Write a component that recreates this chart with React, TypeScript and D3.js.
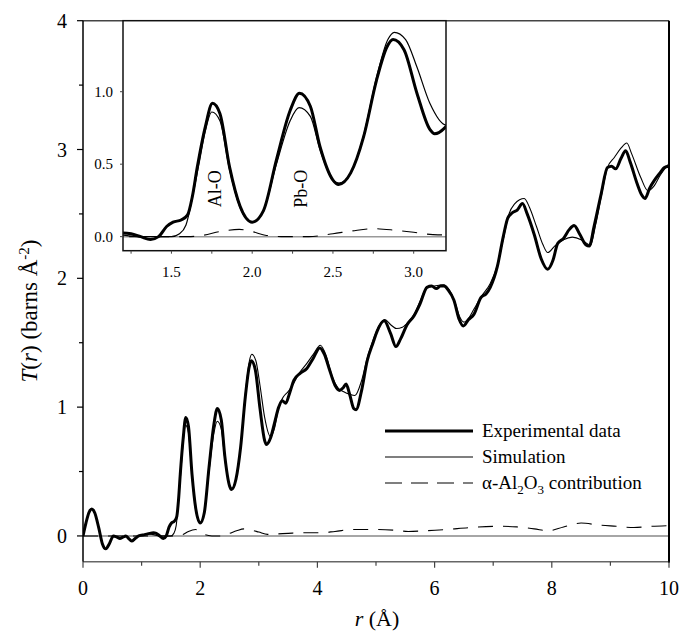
import React from "react";
import * as d3 from "d3";

// experimental T(r), [r, T]
const experimental: [number, number][] = [
  [0.0, 0.0], [0.05, 0.1], [0.1, 0.18], [0.15, 0.21], [0.2, 0.18], [0.27, 0.06],
  [0.33, -0.06], [0.39, -0.1], [0.45, -0.06], [0.52, 0.0], [0.58, -0.01], [0.63, -0.02],
  [0.68, -0.01], [0.73, 0.0], [0.78, -0.02], [0.83, -0.04], [0.89, -0.02], [0.95, 0.0],
  [1.05, 0.01], [1.14, 0.02], [1.2, 0.025], [1.25, 0.02], [1.31, 0.0], [1.37, -0.02],
  [1.42, 0.0], [1.47, 0.07], [1.51, 0.1], [1.56, 0.115], [1.6, 0.15], [1.63, 0.28],
  [1.66, 0.48], [1.71, 0.76], [1.754, 0.92], [1.8, 0.85], [1.86, 0.48], [1.925, 0.21],
  [2.0, 0.1], [2.07, 0.18], [2.15, 0.53], [2.235, 0.87], [2.293, 0.99], [2.36, 0.9],
  [2.42, 0.62], [2.5, 0.39], [2.535, 0.36], [2.61, 0.44], [2.69, 0.69], [2.77, 1.08],
  [2.835, 1.31], [2.872, 1.36], [2.94, 1.29], [3.02, 0.99], [3.1, 0.74], [3.13, 0.71],
  [3.2, 0.76], [3.27, 0.88], [3.34, 1.0], [3.4, 1.05], [3.46, 1.03], [3.52, 1.1],
  [3.6, 1.21], [3.7, 1.26], [3.82, 1.3], [3.93, 1.38], [4.04, 1.46], [4.12, 1.41],
  [4.2, 1.3], [4.3, 1.17], [4.38, 1.13], [4.44, 1.15], [4.49, 1.18], [4.55, 1.1],
  [4.62, 0.99], [4.66, 0.98], [4.75, 1.12], [4.85, 1.36], [4.95, 1.5], [5.02, 1.59],
  [5.14, 1.67], [5.25, 1.57], [5.34, 1.47], [5.42, 1.53], [5.53, 1.64], [5.65, 1.71],
  [5.75, 1.8], [5.87, 1.93], [5.95, 1.94], [6.03, 1.92], [6.1, 1.94], [6.16, 1.94],
  [6.23, 1.91], [6.33, 1.83], [6.42, 1.68], [6.49, 1.63], [6.58, 1.68], [6.67, 1.72],
  [6.79, 1.85], [6.88, 1.88], [6.95, 1.93], [7.07, 2.09], [7.17, 2.32], [7.25, 2.47],
  [7.33, 2.51], [7.41, 2.53], [7.5, 2.58], [7.58, 2.5], [7.7, 2.34], [7.82, 2.15],
  [7.93, 2.07], [8.02, 2.14], [8.1, 2.27], [8.2, 2.31], [8.3, 2.38], [8.38, 2.41],
  [8.48, 2.34], [8.58, 2.26], [8.64, 2.25], [8.72, 2.4], [8.84, 2.65], [8.95, 2.86],
  [9.02, 2.87], [9.09, 2.85], [9.18, 2.93], [9.26, 2.99], [9.34, 2.9], [9.46, 2.73],
  [9.53, 2.65], [9.59, 2.62], [9.67, 2.7], [9.75, 2.76], [9.85, 2.82], [9.92, 2.86],
  [10.0, 2.87],
];

// simulation T(r)
const simulation: [number, number][] = [
  [0.0, 0.0], [0.05, 0.1], [0.1, 0.18], [0.15, 0.21], [0.2, 0.18], [0.27, 0.06],
  [0.33, -0.06], [0.39, -0.1], [0.45, -0.06], [0.52, 0.0], [0.58, -0.01], [0.63, -0.02],
  [0.68, -0.01], [0.73, 0.0], [0.78, -0.02], [0.83, -0.04], [0.89, -0.02], [0.95, 0.0],
  [1.05, 0.01], [1.14, 0.015], [1.2, 0.01], [1.3, 0.0], [1.4, 0.0], [1.5, 0.0],
  [1.55, 0.02], [1.59, 0.08], [1.63, 0.27], [1.67, 0.5], [1.71, 0.73], [1.75, 0.86],
  [1.8, 0.8], [1.86, 0.46], [1.925, 0.2], [2.0, 0.1], [2.07, 0.18], [2.15, 0.5],
  [2.235, 0.8], [2.29, 0.89], [2.36, 0.83], [2.42, 0.6], [2.5, 0.39], [2.54, 0.37],
  [2.61, 0.44], [2.69, 0.7], [2.77, 1.1], [2.84, 1.36], [2.88, 1.41], [2.95, 1.36],
  [3.02, 1.17], [3.1, 0.92], [3.2, 0.77], [3.27, 0.84], [3.34, 1.0], [3.42, 1.08],
  [3.5, 1.12], [3.6, 1.19], [3.7, 1.27], [3.82, 1.34], [3.93, 1.41], [4.05, 1.48],
  [4.15, 1.4], [4.25, 1.24], [4.35, 1.15], [4.45, 1.12], [4.55, 1.1], [4.64, 1.09],
  [4.75, 1.2], [4.85, 1.38], [4.95, 1.52], [5.05, 1.63], [5.15, 1.68], [5.25, 1.64],
  [5.35, 1.61], [5.45, 1.62], [5.55, 1.66], [5.65, 1.72], [5.75, 1.82], [5.87, 1.93],
  [6.0, 1.94], [6.15, 1.95], [6.25, 1.91], [6.35, 1.81], [6.43, 1.7], [6.5, 1.66],
  [6.58, 1.69], [6.67, 1.76], [6.8, 1.86], [6.95, 1.96], [7.07, 2.1], [7.17, 2.3],
  [7.27, 2.5], [7.37, 2.58], [7.45, 2.61], [7.53, 2.62], [7.62, 2.55], [7.74, 2.4],
  [7.85, 2.26], [7.93, 2.2], [8.05, 2.25], [8.2, 2.3], [8.35, 2.32], [8.5, 2.3],
  [8.6, 2.27], [8.66, 2.26], [8.75, 2.42], [8.85, 2.65], [8.95, 2.86], [9.07, 2.94],
  [9.18, 3.01], [9.28, 3.05], [9.36, 2.97], [9.52, 2.78], [9.64, 2.68], [9.75, 2.72],
  [9.85, 2.8], [10.0, 2.89],
];

// alpha-Al2O3 contribution
const alumina: [number, number][] = [
  [0.0, 0.0], [1.6, 0.0], [1.7, 0.01], [1.8, 0.035], [1.92, 0.05], [2.0, 0.035],
  [2.08, 0.01], [2.2, 0.0], [2.35, 0.0], [2.5, 0.02], [2.62, 0.04], [2.75, 0.055],
  [2.88, 0.045], [3.0, 0.03], [3.15, 0.012], [3.3, 0.015], [3.5, 0.02], [3.75, 0.025],
  [4.05, 0.025], [4.3, 0.035], [4.6, 0.05], [5.0, 0.05], [5.3, 0.045], [5.55, 0.035],
  [5.85, 0.04], [6.2, 0.05], [6.6, 0.065], [7.1, 0.075], [7.4, 0.07], [7.7, 0.055],
  [7.95, 0.04], [8.2, 0.07], [8.5, 0.1], [8.8, 0.085], [9.1, 0.075], [9.4, 0.065],
  [9.7, 0.075], [10.0, 0.08],
];

const xTicksMajor = [0, 2, 4, 6, 8, 10];
const xTicksMinor = [1, 3, 5, 7, 9];
const yTicksMajor = [0, 1, 2, 3, 4];
const yTicksMinor = [0.5, 1.5, 2.5, 3.5];
const insetXTicks = [1.25, 1.5, 1.75, 2.0, 2.25, 2.5, 2.75, 3.0];
const insetXLabels = [1.5, 2.0, 2.5, 3.0];
const insetYTicks = [0, 0.5, 1.0];

const FONT = "'Liberation Serif', 'Times New Roman', serif";

export default function App() {
  const W = 681, H = 636;
  const m = { left: 83, right: 669, top: 20.7, bottom: 561.7 };
  const x = d3.scaleLinear().domain([0, 10]).range([m.left, m.right]);
  const y = d3.scaleLinear().domain([-0.2, 4]).range([m.bottom, m.top]);

  const ins = { left: 123, right: 446, top: 20.7, bottom: 250.7 };
  const xi = d3.scaleLinear().domain([1.2, 3.2]).range([ins.left, ins.right]);
  const yi = d3.scaleLinear().domain([-0.097, 1.49]).range([ins.bottom, ins.top]);

  const line = d3.line<[number, number]>()
    .x((d) => x(d[0]))
    .y((d) => y(d[1]))
    .curve(d3.curveMonotoneX);
  const lineIn = d3.line<[number, number]>()
    .x((d) => xi(d[0]))
    .y((d) => yi(d[1]))
    .curve(d3.curveMonotoneX);

  return (
    <svg width={W} height={H} style={{ position: "absolute", left: 0, top: 0, background: "#fff" }} fontFamily={FONT}>
      <defs>
        <clipPath id="main-clip">
          <rect x={m.left} y={m.top} width={m.right - m.left} height={m.bottom - m.top} />
        </clipPath>
        <clipPath id="inset-clip">
          <rect x={ins.left} y={ins.top} width={ins.right - ins.left} height={ins.bottom - ins.top} />
        </clipPath>
      </defs>

      {/* main plot */}
      <line x1={m.left} x2={m.right} y1={y(0)} y2={y(0)} stroke="#888" strokeWidth={1.5} />
      <g clipPath="url(#main-clip)" fill="none">
        <path d={line(alumina) ?? ""} stroke="#000" strokeWidth={1.1} strokeDasharray="15,10" />
        <path d={line(simulation) ?? ""} stroke="#000" strokeWidth={1.1} />
        <path d={line(experimental) ?? ""} stroke="#000" strokeWidth={3} />
      </g>

      {/* frame */}
      <line x1={m.left} x2={m.right} y1={m.top} y2={m.top} stroke="#444" strokeWidth={1.5} />
      <line x1={m.left} x2={m.right} y1={m.bottom} y2={m.bottom} stroke="#666" strokeWidth={1.5} />
      <line x1={m.left} x2={m.left} y1={m.top} y2={m.bottom} stroke="#000" strokeWidth={1.5} />
      <line x1={m.right} x2={m.right} y1={m.top} y2={m.bottom + 1} stroke="#000" strokeWidth={2} />

      {xTicksMajor.map((t) => (
        <g key={"xt" + t}>
          <line x1={x(t)} x2={x(t)} y1={m.bottom} y2={m.bottom + 6} stroke="#444" strokeWidth={1.2} />
          <text x={x(t)} y={m.bottom + 33} fontSize={20} textAnchor="middle">{t}</text>
        </g>
      ))}
      {xTicksMinor.map((t) => (
        <line key={"xm" + t} x1={x(t)} x2={x(t)} y1={m.bottom} y2={m.bottom + 4} stroke="#444" strokeWidth={1.2} />
      ))}
      {yTicksMajor.map((t) => (
        <g key={"yt" + t}>
          <line x1={m.left - 6} x2={m.left} y1={y(t)} y2={y(t)} stroke="#000" strokeWidth={1.2} />
          <text x={m.left - 16} y={y(t)} dy="0.35em" fontSize={20} textAnchor="end">{t}</text>
        </g>
      ))}
      {yTicksMinor.map((t) => (
        <line key={"ym" + t} x1={m.left - 4} x2={m.left} y1={y(t)} y2={y(t)} stroke="#000" strokeWidth={1.2} />
      ))}

      <text x={377} y={626} fontSize={22} textAnchor="middle">
        <tspan fontStyle="italic">r</tspan> (Å)
      </text>
      <text transform="translate(37,311) rotate(-90)" fontSize={23} textAnchor="middle">
        <tspan fontStyle="italic">T</tspan>(<tspan fontStyle="italic">r</tspan>) (barns Å
        <tspan dy={-8} fontSize={15}>-2</tspan>
        <tspan dy={8}>)</tspan>
      </text>

      {/* legend */}
      <g fontSize={19}>
        <line x1={385} x2={473} y1={431} y2={431} stroke="#000" strokeWidth={3} />
        <text x={482} y={437}>Experimental data</text>
        <line x1={385} x2={473} y1={457} y2={457} stroke="#000" strokeWidth={1.1} />
        <text x={482} y={463}>Simulation</text>
        <line x1={385} x2={473} y1={483} y2={483} stroke="#000" strokeWidth={1.1} strokeDasharray="17,9" />
        <text x={482} y={489}>
          α-Al<tspan dy={5} fontSize={13}>2</tspan>
          <tspan dy={-5}>O</tspan>
          <tspan dy={5} fontSize={13}>3</tspan>
          <tspan dy={-5}> contribution</tspan>
        </text>
      </g>

      {/* inset */}
      <rect x={ins.left} y={ins.top} width={ins.right - ins.left} height={ins.bottom - ins.top} fill="#fff" />
      <line x1={ins.left} x2={ins.right} y1={yi(0)} y2={yi(0)} stroke="#999" strokeWidth={1.5} />
      <g clipPath="url(#inset-clip)" fill="none">
        <path d={lineIn(alumina) ?? ""} stroke="#000" strokeWidth={1.1} strokeDasharray="15,10" />
        <path d={lineIn(simulation) ?? ""} stroke="#000" strokeWidth={1.2} />
        <path d={lineIn(experimental) ?? ""} stroke="#000" strokeWidth={3} />
      </g>
      <rect x={ins.left} y={ins.top} width={ins.right - ins.left} height={ins.bottom - ins.top} fill="none" stroke="#111" strokeWidth={1.5} />
      {insetXTicks.map((t) => (
        <line key={"ixt" + t} x1={xi(t)} x2={xi(t)} y1={ins.bottom} y2={ins.bottom + 3} stroke="#444" strokeWidth={1} />
      ))}
      {insetXLabels.map((t) => (
        <text key={"ixl" + t} x={xi(t)} y={ins.bottom + 26} fontSize={15} textAnchor="middle">{t.toFixed(1)}</text>
      ))}
      {insetYTicks.map((t) => (
        <g key={"iyt" + t}>
          <line x1={ins.left - 3} x2={ins.left} y1={yi(t)} y2={yi(t)} stroke="#444" strokeWidth={1} />
          <text x={ins.left - 10} y={yi(t)} dy="0.35em" fontSize={15} textAnchor="end">{t.toFixed(1)}</text>
        </g>
      ))}
      <text transform={`translate(${xi(1.77) + 6},${yi(0.33)}) rotate(-90)`} fontSize={18} textAnchor="middle">Al-O</text>
      <text transform={`translate(${xi(2.3) + 6},${yi(0.33)}) rotate(-90)`} fontSize={18} textAnchor="middle">Pb-O</text>
    </svg>
  );
}
